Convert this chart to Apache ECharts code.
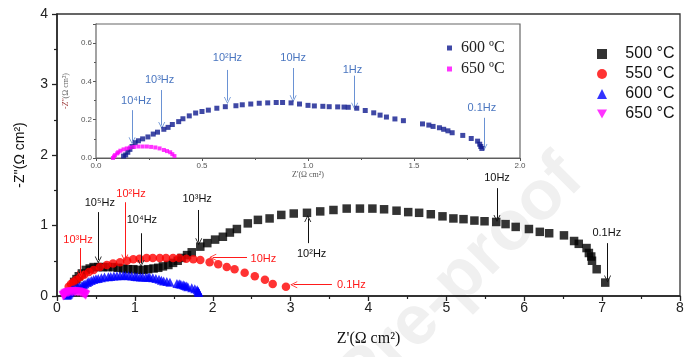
<!DOCTYPE html>
<html><head><meta charset="utf-8">
<script src="https://cdn.jsdelivr.net/npm/echarts@6/dist/echarts.min.js"></script>
<style>html,body{margin:0;padding:0;background:#fff}#c{width:692px;height:357px}</style>
</head><body><div id="c"></div>
<script>
// ---- data ----
const s500 = [[0.22,0.2],[0.25,0.24],[0.28,0.28],[0.32,0.32],[0.37,0.37],[0.42,0.39],[0.47,0.41],[0.53,0.41],[0.59,0.41],[0.65,0.41],[0.72,0.41],[0.78,0.4],[0.85,0.39],[0.91,0.38],[0.98,0.38],[1.04,0.37],[1.11,0.37],[1.17,0.38],[1.24,0.39],[1.3,0.4],[1.36,0.42],[1.43,0.44],[1.49,0.47],[1.55,0.5],[1.6,0.54],[1.67,0.58],[1.73,0.62],[1.84,0.7],[1.93,0.75],[2.03,0.8],[2.13,0.84],[2.22,0.9],[2.31,0.95],[2.45,1.03],[2.58,1.08],[2.73,1.1],[2.88,1.15],[3.04,1.17],[3.21,1.18],[3.38,1.2],[3.55,1.22],[3.72,1.24],[3.89,1.24],[4.05,1.24],[4.2,1.23],[4.36,1.21],[4.51,1.19],[4.65,1.18],[4.8,1.16],[4.95,1.13],[5.09,1.1],[5.22,1.09],[5.36,1.07],[5.49,1.06],[5.64,1.05],[5.76,1.02],[5.89,0.98],[6.06,0.95],[6.2,0.91],[6.32,0.89],[6.51,0.86],[6.64,0.78],[6.7,0.74],[6.8,0.68],[6.83,0.61],[6.86,0.56],[6.87,0.5],[6.93,0.38],[7.04,0.19]];
const s550 = [[0.15,0.13],[0.18,0.17],[0.21,0.2],[0.25,0.23],[0.3,0.27],[0.35,0.3],[0.41,0.34],[0.47,0.37],[0.55,0.41],[0.64,0.44],[0.72,0.46],[0.81,0.48],[0.9,0.5],[0.98,0.52],[1.06,0.53],[1.15,0.54],[1.23,0.54],[1.32,0.54],[1.4,0.54],[1.49,0.54],[1.57,0.54],[1.66,0.53],[1.75,0.52],[1.84,0.51],[1.96,0.48],[2.07,0.45],[2.18,0.41],[2.28,0.38],[2.41,0.33],[2.54,0.28],[2.67,0.23],[2.77,0.17],[2.94,0.13]];
const s600 = [[0.13,0.01],[0.14,0.016],[0.15,0.03],[0.16,0.045],[0.17,0.06],[0.185,0.08],[0.2,0.09],[0.22,0.1],[0.245,0.11],[0.27,0.125],[0.29,0.135],[0.32,0.15],[0.34,0.16],[0.36,0.175],[0.39,0.19],[0.41,0.205],[0.44,0.22],[0.47,0.235],[0.5,0.243],[0.53,0.25],[0.57,0.26],[0.61,0.268],[0.66,0.273],[0.69,0.278],[0.73,0.282],[0.77,0.286],[0.81,0.288],[0.85,0.29],[0.88,0.29],[0.92,0.288],[0.96,0.282],[1.0,0.275],[1.03,0.272],[1.07,0.27],[1.1,0.268],[1.14,0.267],[1.17,0.266],[1.19,0.265],[1.23,0.26],[1.27,0.248],[1.31,0.236],[1.34,0.224],[1.37,0.214],[1.41,0.204],[1.45,0.195],[1.54,0.178],[1.57,0.172],[1.59,0.165],[1.62,0.158],[1.64,0.15],[1.66,0.142],[1.68,0.132],[1.73,0.118],[1.77,0.102],[1.8,0.088],[1.81,0.072],[1.815,0.06],[1.82,0.05]];
const s650 = [[0.08,0.0],[0.085,0.008],[0.09,0.015],[0.1,0.024],[0.105,0.03],[0.115,0.038],[0.13,0.045],[0.145,0.05],[0.16,0.055],[0.18,0.058],[0.2,0.06],[0.22,0.06],[0.24,0.06],[0.26,0.058],[0.28,0.055],[0.3,0.05],[0.32,0.042],[0.335,0.036],[0.35,0.03],[0.36,0.02],[0.37,0.01]];

const mainNames = ['500 °C','550 °C','600 °C','650 °C'];
const insetNames = ['600 ºC','650 ºC'];
const mainXTicks = [0,1,2,3,4,5,6,7,8];
const mainYTicks = [0,1,2,3,4];
const insetXTicks = ['0.0','0.5','1.0','1.5','2.0'];
const insetYTicks = ['0.0','0.2','0.4','0.6'];

// annotations: [text, textX, textY, arrowFromX, arrowFromY, arrowToX, arrowToY]
const annBlack = [
  ['10⁵Hz',0.55,1.32, 0.53,1.19, 0.53,0.51],
  ['10⁴Hz',1.09,1.08, 1.08,0.89, 1.08,0.46],
  ['10³Hz',1.8,1.38, 1.82,1.22, 1.82,0.77],
  ['10²Hz',3.27,0.6, 3.22,0.75, 3.22,1.1],
  ['10Hz',5.65,1.67, 5.65,1.53, 5.65,1.1],
  ['0.1Hz',7.06,0.89, 7.07,0.75, 7.07,0.24]
];
const annRed = [
  ['10³Hz',0.27,0.8, 0.3,0.68, 0.3,0.31],
  ['10²Hz',0.95,1.45, 0.87,1.33, 0.87,0.54],
  ['10Hz',2.65,0.53, 2.44,0.55, 2.0,0.55],
  ['0.1Hz',3.78,0.16, 3.53,0.16, 3.04,0.16]
];
const annBlue = [
  ['10⁴Hz',0.19,0.30, 0.17,0.25, 0.17,0.09],
  ['10³Hz',0.30,0.41, 0.31,0.355, 0.31,0.17],
  ['10²Hz',0.62,0.52, 0.62,0.46, 0.62,0.3],
  ['10Hz',0.93,0.52, 0.93,0.47, 0.93,0.31],
  ['1Hz',1.21,0.46, 1.22,0.43, 1.22,0.27],
  ['0.1Hz',1.82,0.26, 1.83,0.21, 1.83,0.055]
];

const chevron = 'path://M0,10 L5,0 L10,10 L8.8,10 L5,2.4 L1.2,10 Z';
function annLines(arr, color){
  return {
    silent:true, animation:false,
    symbol:['none', chevron], symbolSize:7,
    lineStyle:{color:color, width:1, type:'solid'},
    label:{show:false}, emphasis:{disabled:true},
    data: arr.map(a => [{coord:[a[3],a[4]]},{coord:[a[5],a[6]]}])
  };
}
function annTexts(arr, color){
  return {
    silent:true, animation:false,
    symbol:'circle', symbolSize:0.1, itemStyle:{color:'rgba(0,0,0,0)'},
    label:{show:true, position:'inside', formatter:'{b}', color:color,
      fontFamily:'Liberation Sans, Arial, sans-serif', fontSize:11},
    data: arr.map(a => ({name:a[0], coord:[a[1],a[2]]}))
  };
}

const sans = 'Liberation Sans, Arial, sans-serif';
const serif = 'Liberation Serif, Times New Roman, serif';
const downTri = 'path://M0,0 L10,0 L5,9 Z';

const chart = echarts.init(document.getElementById('c'), null, {renderer:'canvas'});
chart.setOption({
  animation:false,
  backgroundColor:'#ffffff',
  graphic:[{
    type:'text', x:572, y:168, rotation:Math.PI*0.25, z:-10, silent:true,
    style:{text:'Journal Pre-proof', fill:'#f0f0f0', font:'bold 70px Liberation Sans, Arial, sans-serif',
      textAlign:'right', textVerticalAlign:'middle'}
  }],
  grid:[
    {left:57, right:12, top:14, bottom:61, show:true, borderColor:'#333', borderWidth:1.3, backgroundColor:'transparent'},
    {left:96, right:172, top:24, bottom:199, show:true, borderColor:'#666', borderWidth:1.2, backgroundColor:'#fff', z:3}
  ],
  legend:[
    {data:mainNames, orient:'vertical', left:592, top:41, itemWidth:10, itemHeight:10, itemGap:4,
      formatter: n => '   ' + n, selectedMode:false,
      textStyle:{fontFamily:sans, fontSize:16, color:'#111'}},
    {data:insetNames, orient:'vertical', left:442, top:35, itemWidth:5, itemHeight:5, itemGap:5,
      formatter: n => ' ' + n, selectedMode:false,
      textStyle:{fontFamily:serif, fontSize:16, color:'#222'}}
  ],
  xAxis:[
    {gridIndex:0, type:'value', min:mainXTicks[0], max:mainXTicks[mainXTicks.length-1], interval:1,
      name:"Z'(Ω cm²)", nameLocation:'middle', nameGap:35,
      nameTextStyle:{fontFamily:serif, fontSize:16, color:'#111'},
      axisLine:{lineStyle:{color:'#222', width:1.5}},
      axisTick:{show:true, inside:false, length:5, lineStyle:{color:'#222', width:1.3}},
      minorTick:{show:true, splitNumber:2, length:3, lineStyle:{color:'#222', width:1.2}},
      axisLabel:{fontFamily:sans, fontSize:14, color:'#222', margin:5},
      splitLine:{show:false}},
    {gridIndex:1, type:'value', min:0, max:2, interval:0.5,
      name:"Z'(Ω cm²)", nameLocation:'middle', nameGap:10,
      nameTextStyle:{fontFamily:serif, fontSize:8, color:'#555'},
      axisLine:{lineStyle:{color:'#555', width:1}},
      axisTick:{show:true, length:3, lineStyle:{color:'#555'}},
      minorTick:{show:true, splitNumber:2, length:2, lineStyle:{color:'#555'}},
      axisLabel:{fontFamily:sans, fontSize:8, color:'#555', margin:4,
        formatter: v => { const i = Math.round(v/0.5); return Math.abs(v - i*0.5) < 1e-6 ? insetXTicks[i] : ''; }},
      splitLine:{show:false}}
  ],
  yAxis:[
    {gridIndex:0, type:'value', min:mainYTicks[0], max:mainYTicks[mainYTicks.length-1], interval:1,
      name:"-Z''(Ω cm²)", nameLocation:'middle', nameGap:30, nameRotate:90,
      nameTextStyle:{fontFamily:sans, fontSize:14, color:'#111'},
      axisLine:{lineStyle:{color:'#222', width:1.5}},
      axisTick:{show:true, length:5, lineStyle:{color:'#222', width:1.3}},
      minorTick:{show:true, splitNumber:2, length:3, lineStyle:{color:'#222', width:1.2}},
      axisLabel:{fontFamily:sans, fontSize:14, color:'#222', margin:9},
      splitLine:{show:false}},
    {gridIndex:1, type:'value', min:0, max:0.7, interval:0.2,
      name:"{a|-Z''}{b|(Ω cm²)}", nameLocation:'middle', nameGap:22, nameRotate:90,
      nameTextStyle:{fontFamily:serif, fontSize:8, color:'#666',
        rich:{a:{color:'#a04040', fontFamily:serif, fontSize:8, fontStyle:'italic'}, b:{color:'#666', fontFamily:serif, fontSize:8}}},
      axisLine:{lineStyle:{color:'#555', width:1}},
      axisTick:{show:true, length:3, lineStyle:{color:'#555'}},
      minorTick:{show:true, splitNumber:2, length:2, lineStyle:{color:'#555'}},
      axisLabel:{fontFamily:sans, fontSize:8, color:'#555', margin:4, showMaxLabel:false,
        formatter: v => { const i = Math.round(v/0.2); return (Math.abs(v - i*0.2) < 1e-6 && i < insetYTicks.length) ? insetYTicks[i] : ''; }},
      splitLine:{show:false}}
  ],
  series:[
    {name:mainNames[0], type:'scatter', xAxisIndex:0, yAxisIndex:0, data:s500,
      symbol:'rect', symbolSize:8.5, itemStyle:{color:'#000'},
      markLine:annLines(annBlack,'#111'), markPoint:annTexts(annBlack,'#111')},
    {name:mainNames[1], type:'scatter', xAxisIndex:0, yAxisIndex:0, data:s550,
      symbol:'circle', symbolSize:8.5, itemStyle:{color:'#ff0000'},
      markLine:annLines(annRed,'#ff1a1a'), markPoint:annTexts(annRed,'#ff1a1a')},
    {name:mainNames[2], type:'scatter', xAxisIndex:0, yAxisIndex:0, data:s600,
      symbol:'triangle', symbolSize:9, itemStyle:{color:'#0000ff'}},
    {name:mainNames[3], type:'scatter', xAxisIndex:0, yAxisIndex:0, data:s650,
      symbol:downTri, symbolSize:9, itemStyle:{color:'#ff00ff'}},
    {name:insetNames[0], type:'scatter', xAxisIndex:1, yAxisIndex:1, data:s600, z:5,
      symbol:'rect', symbolSize:5, itemStyle:{color:'#0f1a8f'},
      markLine:annLines(annBlue,'#6a92d4'), markPoint:annTexts(annBlue,'#4a76c0')},
    {name:insetNames[1], type:'scatter', xAxisIndex:1, yAxisIndex:1, data:s650, z:5,
      symbol:'rect', symbolSize:4, itemStyle:{color:'#ff00ff'}}
  ]
});
</script></body></html>
